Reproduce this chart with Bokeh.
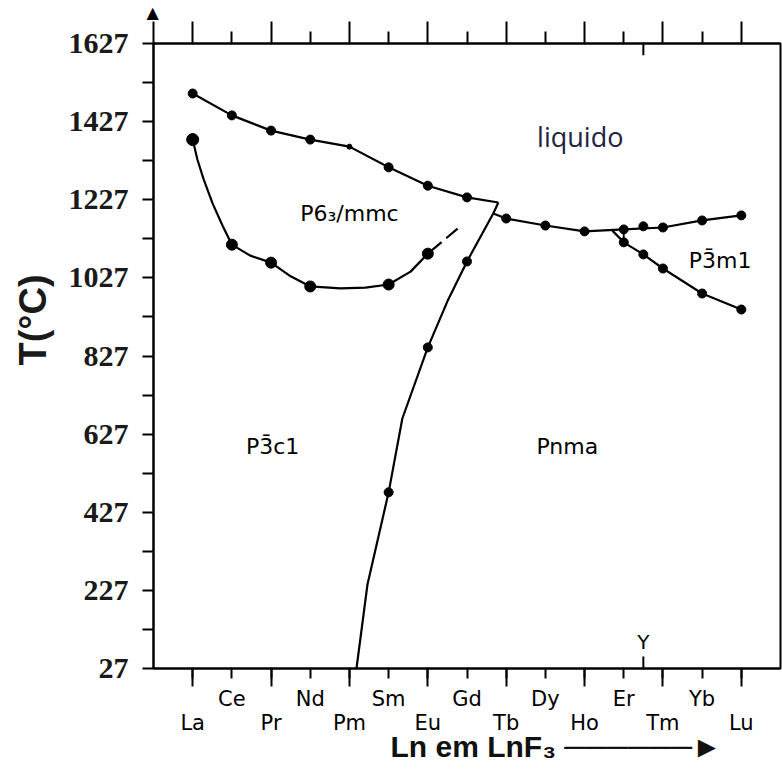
from bokeh.plotting import figure
from bokeh.models import Range1d, FixedTicker, LinearAxis, Title
from bokeh.core.properties import value
from bokeh.embed import file_html
from bokeh.resources import INLINE

# ---------------- data ----------------
elements = ["La", "Ce", "Pr", "Nd", "Pm", "Sm", "Eu", "Gd",
            "Tb", "Dy", "Ho", "Er", "Tm", "Yb", "Lu"]
y_major = [27, 227, 427, 627, 827, 1027, 1227, 1427, 1627]
y_minor = [127, 327, 527, 727, 927, 1127, 1327, 1527]

# liquidus (melting) curve
liq_left_x = [0, 1, 2, 3, 4, 5, 6, 7, 7.8]
liq_left_T = [1499, 1443, 1404, 1381, 1363, 1310, 1263, 1233, 1220]
liq_right_x = [7.67, 8, 9, 10, 11, 12, 13, 14]
liq_right_T = [1192, 1179, 1161, 1146, 1151, 1156, 1174, 1187]
liq_dot_x = [0, 1, 2, 3, 5, 6, 7, 8, 9, 10, 11, 11.5, 12, 13, 14]
liq_dot_T = [1499, 1443, 1404, 1381, 1310, 1263, 1233, 1179, 1161, 1146, 1151, 1159, 1156, 1174, 1187]
pm_dot_x = [4]
pm_dot_T = [1363]

# P-3c1 / P6_3/mmc transition
tr_x = [0, 0.12, 0.28, 0.51, 0.76, 1, 1.47, 2, 2.5, 3, 3.77, 4.41, 5, 5.56, 6]
tr_T = [1381, 1330, 1279, 1217, 1161, 1112, 1084, 1066, 1031, 1005, 1000, 1002, 1010, 1043, 1089]
tr_dash_x = [6, 6.76]
tr_dash_T = [1089, 1153]
tr_dot_x = [0, 1, 2, 3, 5, 6]
tr_dot_T = [1381, 1112, 1066, 1005, 1010, 1089]

# Pnma boundary
pnma_x = [4.18, 4.46, 5, 5.35, 6, 6.5, 7, 7.67, 7.8]
pnma_T = [27, 242, 478, 667, 849, 967, 1069, 1192, 1220]
pnma_dot_x = [5, 6, 7]
pnma_dot_T = [478, 849, 1069]

# P-3m1 boundary
p3m1_x = [10.71, 11, 11.5, 12, 13, 14]
p3m1_T = [1148, 1118, 1087, 1051, 987, 946]
p3m1_dot_x = [11, 11.5, 12, 13, 14]
p3m1_dot_T = [1118, 1087, 1051, 987, 946]

Y_pos = 11.5

# ---------------- figure ----------------
p = figure(frame_width=627, frame_height=625,
           min_border_left=153, min_border_right=2,
           min_border_top=42, min_border_bottom=104,
           x_range=Range1d(-1, 15), y_range=Range1d(27, 1627),
           output_backend="svg", toolbar_location=None, title=None)
p.xgrid.visible = False
p.ygrid.visible = False
p.outline_line_color = "black"
p.outline_line_width = 2
p.background_fill_color = "white"
p.border_fill_color = "white"

tick_font = "DejaVu Sans"

# bottom axis (two rows of labels, long ticks under the lower row)
xa = p.xaxis[0]
xa.ticker = FixedTicker(ticks=list(range(len(elements))),
                        minor_ticks=list(range(0, len(elements), 2)))
xa.major_label_overrides = {i: (e if i % 2 else "\u00a0\n" + e) for i, e in enumerate(elements)}
xa.major_tick_out = 10
xa.major_tick_in = 0
xa.minor_tick_out = 18
xa.minor_tick_in = 0
xa.axis_line_width = 2
xa.major_tick_line_width = 2
xa.minor_tick_line_width = 2
xa.major_label_standoff = 0
xa.major_label_text_font = tick_font
xa.major_label_text_font_size = "21px"
xa.major_label_text_line_height = 1.0
xa.major_label_text_color = "black"

# top axis (alternating long/short ticks, plus the y-axis arrow stem)
ta = LinearAxis(ticker=FixedTicker(ticks=[-1] + list(range(0, len(elements), 2)),
                                   minor_ticks=list(range(1, len(elements), 2))))
ta.major_tick_out = 22
ta.major_tick_in = 0
ta.minor_tick_out = 12
ta.minor_tick_in = 0
ta.axis_line_width = 2
ta.major_tick_line_width = 2
ta.minor_tick_line_width = 2
ta.major_label_standoff = 0
ta.major_label_overrides = {t: "" for t in [-1] + list(range(0, len(elements), 2))}
ta.major_label_text_font_size = "1px"
p.add_layout(ta, "above")

# left axis
ya = p.yaxis[0]
ya.ticker = FixedTicker(ticks=y_major, minor_ticks=y_minor)
ya.major_tick_out = 11
ya.major_tick_in = 0
ya.minor_tick_out = 11
ya.minor_tick_in = 0
ya.axis_line_width = 2
ya.major_tick_line_width = 2
ya.minor_tick_line_width = 2
ya.major_label_standoff = 14
ya.major_label_text_font = "Liberation Serif"
ya.major_label_text_font_style = "bold"
ya.major_label_text_font_size = "30px"
ya.major_label_text_color = "#1a1a1a"

LW = 2.2
# curves
p.line(liq_left_x, liq_left_T, line_color="black", line_width=LW)
p.line(liq_right_x, liq_right_T, line_color="black", line_width=LW)
p.line(tr_x, tr_T, line_color="black", line_width=LW)
p.line(tr_dash_x, tr_dash_T, line_color="black", line_width=LW, line_dash="18 6")
p.line(pnma_x, pnma_T, line_color="black", line_width=LW)
p.line(p3m1_x, p3m1_T, line_color="black", line_width=LW)
p.line([liq_right_x[4], p3m1_x[1]], [liq_right_T[4], p3m1_T[1]], line_color="black", line_width=1.8)

# dots
p.scatter(liq_dot_x, liq_dot_T, size=9, color="black")
p.scatter(pm_dot_x, pm_dot_T, size=5, color="black")
p.scatter(tr_dot_x, tr_dot_T, size=11, color="black")
p.scatter(tr_dot_x[:1], tr_dot_T[:1], size=12, color="black")
p.scatter(pnma_dot_x, pnma_dot_T, size=9, color="black")
p.scatter(p3m1_dot_x, p3m1_dot_T, size=9, color="black")

# Y marks on top and bottom axes
p.segment([Y_pos, Y_pos], [27, 1627], [Y_pos, Y_pos], [58, 1597], line_color="black", line_width=2)

# region labels
lab_font = value("DejaVu Sans")
p.text([9.89], [1389], text=["liquido"], text_font=value("Open Sans"), text_font_size="27px",
       text_color="#1c2340", text_align="center", text_baseline="middle")
p.text([4.0], [1192], text=["P6\u2083/mmc"], text_font=lab_font, text_font_size="22px",
       text_color="black", text_align="center", text_baseline="middle")
p.text([2.04], [595], text=["P3\u0304c1"], text_font=lab_font, text_font_size="22px",
       text_color="black", text_align="center", text_baseline="middle")
p.text([9.56], [595], text=["Pnma"], text_font=lab_font, text_font_size="22px",
       text_color="black", text_align="center", text_baseline="middle")
p.text([13.46], [1071], text=["P3\u0304m1"], text_font=lab_font, text_font_size="22px",
       text_color="black", text_align="center", text_baseline="middle")
p.text([Y_pos], [94], text=["Y"], text_font=lab_font, text_font_size="20px",
       text_color="black", text_align="center", text_baseline="middle")

# axis titles
p.add_layout(Title(text="T(°C)", align="left", offset=303, standoff=20, vertical_align="top",
                   text_font="Liberation Sans", text_font_style="bold",
                   text_font_size="38px", text_color="#1a1a1a"), "left")
p.add_layout(Title(text="Ln em LnF\u2083 \u2500\u2500\u2500\u2500\u2500\u2500\u25ba",
                   align="left", offset=237, standoff=-16, vertical_align="top",
                   text_font="Liberation Sans", text_font_style="bold",
                   text_font_size="30px", text_color="#111111"), "below")
# arrow head on top of the y axis
p.add_layout(Title(text="\u25b2", align="left", offset=-7, standoff=0,
                   text_font="DejaVu Sans", text_font_size="16px",
                   text_color="black"), "above")

open("out.html", "w").write(file_html(p, INLINE))
